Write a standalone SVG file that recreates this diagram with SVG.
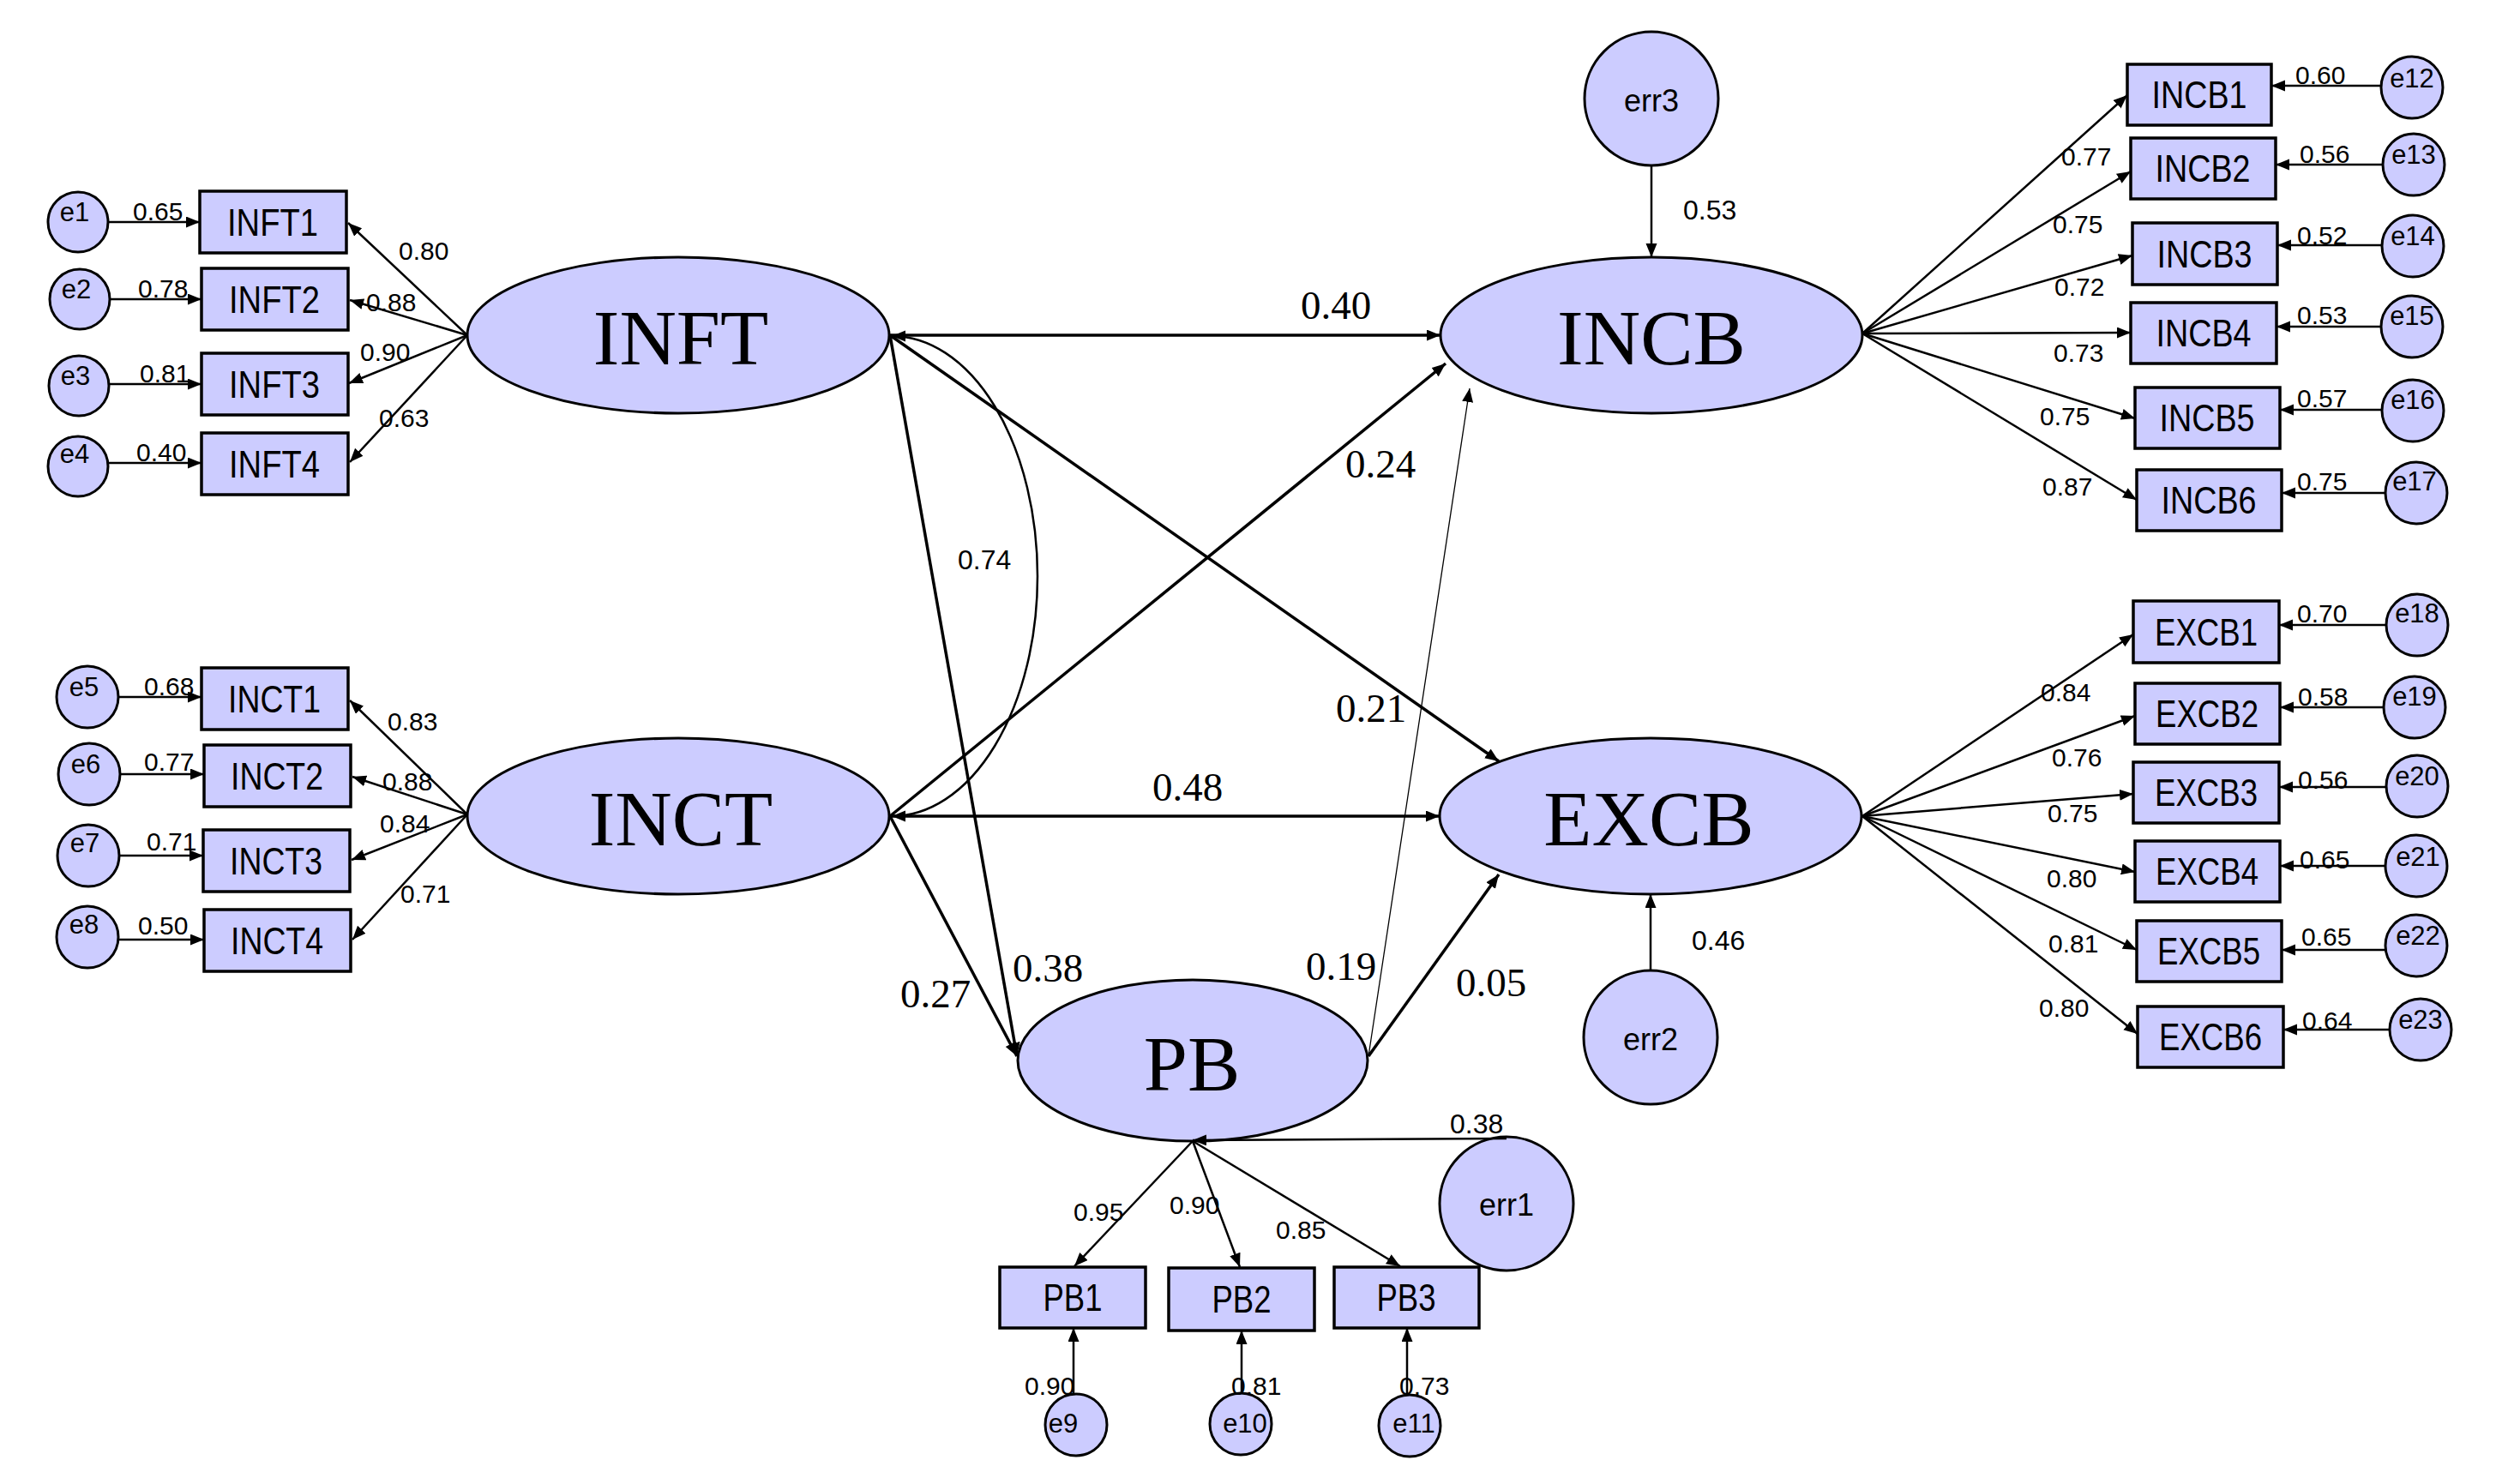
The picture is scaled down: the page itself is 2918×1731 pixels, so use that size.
<svg xmlns="http://www.w3.org/2000/svg" width="2918" height="1731" viewBox="0 0 2918 1731">
<defs>
<marker id="ah" markerUnits="userSpaceOnUse" markerWidth="17" markerHeight="14" refX="16" refY="6.5" orient="auto"><path d="M0,0 L16,6.5 L0,13 z" fill="#000"/></marker>
<marker id="ahs" markerUnits="userSpaceOnUse" markerWidth="17" markerHeight="14" refX="16" refY="6.5" orient="auto-start-reverse"><path d="M0,0 L16,6.5 L0,13 z" fill="#000"/></marker>
</defs>
<style>
.box{fill:#CCCCFF;stroke:#000;stroke-width:3.5}
.lat{fill:#CCCCFF;stroke:#000;stroke-width:3}
.err{fill:#CCCCFF;stroke:#000;stroke-width:3}
.bl{font-family:"Liberation Sans",Arial,sans-serif;font-size:45px;text-anchor:middle;fill:#000}
.ll{font-family:"Liberation Serif","Times New Roman",serif;font-size:92px;text-anchor:middle;fill:#000}
.el{font-family:"Liberation Sans",Arial,sans-serif;font-size:31px;text-anchor:middle;fill:#000}
.erl{font-family:"Liberation Sans",Arial,sans-serif;font-size:36px;text-anchor:middle;fill:#000}
.n{font-family:"Liberation Sans",Arial,sans-serif;font-size:30px;fill:#000}
.n2{font-family:"Liberation Sans",Arial,sans-serif;font-size:32px;fill:#000}
.s{font-family:"Liberation Serif","Times New Roman",serif;font-size:47px;fill:#000}
.ld{stroke:#000;stroke-width:2.5;fill:none;marker-end:url(#ah)}
.st{stroke:#000;stroke-width:3.5;fill:none;marker-end:url(#ah)}
.th{stroke:#000;stroke-width:1.3;fill:none;marker-end:url(#ah)}
.cov{stroke:#000;stroke-width:2.5;fill:none;marker-start:url(#ahs);marker-end:url(#ahs)}
</style>
<rect width="2918" height="1731" fill="#fff"/>

<g id="INFT"><ellipse class="lat" cx="791" cy="391" rx="246" ry="91"/><text class="ll" x="794" y="425">INFT</text></g>
<g id="INCT"><ellipse class="lat" cx="791" cy="952" rx="246" ry="91"/><text class="ll" x="794" y="986">INCT</text></g>
<g id="INCB"><ellipse class="lat" cx="1926" cy="391" rx="246" ry="91"/><text class="ll" x="1926" y="425">INCB</text></g>
<g id="EXCB"><ellipse class="lat" cx="1925" cy="952" rx="246" ry="91"/><text class="ll" x="1923" y="986">EXCB</text></g>
<g id="PB"><ellipse class="lat" cx="1391" cy="1237" rx="204" ry="94"/><text class="ll" x="1390" y="1272">PB</text></g>

<g id="err3"><circle class="err" cx="1926" cy="115" r="78"/><text class="erl" x="1926" y="130">err3</text></g>
<g id="err2"><circle class="err" cx="1925" cy="1210" r="78"/><text class="erl" x="1925" y="1225">err2</text></g>
<g id="err1"><circle class="err" cx="1757" cy="1404" r="78"/><text class="erl" x="1757" y="1418">err1</text></g>

<g id="INFT1"><rect class="box" x="233" y="223" width="171" height="72"/><text class="bl" x="318" y="275" textLength="106" lengthAdjust="spacingAndGlyphs">INFT1</text></g>
<g id="INFT2"><rect class="box" x="235" y="313" width="171" height="72"/><text class="bl" x="320" y="365" textLength="106" lengthAdjust="spacingAndGlyphs">INFT2</text></g>
<g id="INFT3"><rect class="box" x="235" y="412" width="171" height="72"/><text class="bl" x="320" y="464" textLength="106" lengthAdjust="spacingAndGlyphs">INFT3</text></g>
<g id="INFT4"><rect class="box" x="235" y="505" width="171" height="72"/><text class="bl" x="320" y="557" textLength="106" lengthAdjust="spacingAndGlyphs">INFT4</text></g>
<g id="e1"><circle class="err" cx="91" cy="259" r="35"/><text class="el" x="87" y="258">e1</text></g>
<g id="e2"><circle class="err" cx="93" cy="349" r="35"/><text class="el" x="89" y="348">e2</text></g>
<g id="e3"><circle class="err" cx="92" cy="450" r="35"/><text class="el" x="88" y="449">e3</text></g>
<g id="e4"><circle class="err" cx="91" cy="544" r="35"/><text class="el" x="87" y="540">e4</text></g>

<g id="INCT1"><rect class="box" x="235" y="779" width="171" height="72"/><text class="bl" x="320" y="831" textLength="108" lengthAdjust="spacingAndGlyphs">INCT1</text></g>
<g id="INCT2"><rect class="box" x="238" y="869" width="171" height="72"/><text class="bl" x="323" y="921" textLength="108" lengthAdjust="spacingAndGlyphs">INCT2</text></g>
<g id="INCT3"><rect class="box" x="237" y="968" width="171" height="72"/><text class="bl" x="322" y="1020" textLength="108" lengthAdjust="spacingAndGlyphs">INCT3</text></g>
<g id="INCT4"><rect class="box" x="238" y="1061" width="171" height="72"/><text class="bl" x="323" y="1113" textLength="108" lengthAdjust="spacingAndGlyphs">INCT4</text></g>
<g id="e5"><circle class="err" cx="102" cy="813" r="36"/><text class="el" x="98" y="812">e5</text></g>
<g id="e6"><circle class="err" cx="104" cy="903" r="36"/><text class="el" x="100" y="902">e6</text></g>
<g id="e7"><circle class="err" cx="103" cy="998" r="36"/><text class="el" x="99" y="994">e7</text></g>
<g id="e8"><circle class="err" cx="102" cy="1093" r="36"/><text class="el" x="98" y="1089">e8</text></g>

<g id="INCB1"><rect class="box" x="2481" y="75" width="168" height="71"/><text class="bl" x="2565" y="126" textLength="111" lengthAdjust="spacingAndGlyphs">INCB1</text></g>
<g id="INCB2"><rect class="box" x="2485" y="161" width="169" height="71"/><text class="bl" x="2569" y="212" textLength="111" lengthAdjust="spacingAndGlyphs">INCB2</text></g>
<g id="INCB3"><rect class="box" x="2487" y="260" width="169" height="72"/><text class="bl" x="2571" y="312" textLength="111" lengthAdjust="spacingAndGlyphs">INCB3</text></g>
<g id="INCB4"><rect class="box" x="2485" y="353" width="170" height="71"/><text class="bl" x="2570" y="404" textLength="111" lengthAdjust="spacingAndGlyphs">INCB4</text></g>
<g id="INCB5"><rect class="box" x="2490" y="452" width="169" height="71"/><text class="bl" x="2574" y="503" textLength="111" lengthAdjust="spacingAndGlyphs">INCB5</text></g>
<g id="INCB6"><rect class="box" x="2492" y="548" width="169" height="71"/><text class="bl" x="2576" y="599" textLength="111" lengthAdjust="spacingAndGlyphs">INCB6</text></g>
<g id="e12"><circle class="err" cx="2813" cy="102" r="36"/><text class="el" x="2813" y="102">e12</text></g>
<g id="e13"><circle class="err" cx="2815" cy="192" r="36"/><text class="el" x="2815" y="191">e13</text></g>
<g id="e14"><circle class="err" cx="2814" cy="287" r="36"/><text class="el" x="2814" y="286">e14</text></g>
<g id="e15"><circle class="err" cx="2813" cy="381" r="36"/><text class="el" x="2813" y="379">e15</text></g>
<g id="e16"><circle class="err" cx="2814" cy="479" r="36"/><text class="el" x="2814" y="477">e16</text></g>
<g id="e17"><circle class="err" cx="2818" cy="575" r="36"/><text class="el" x="2816" y="572">e17</text></g>

<g id="EXCB1"><rect class="box" x="2488" y="701" width="170" height="72"/><text class="bl" x="2573" y="753" textLength="120" lengthAdjust="spacingAndGlyphs">EXCB1</text></g>
<g id="EXCB2"><rect class="box" x="2490" y="797" width="169" height="71"/><text class="bl" x="2574" y="848" textLength="120" lengthAdjust="spacingAndGlyphs">EXCB2</text></g>
<g id="EXCB3"><rect class="box" x="2488" y="889" width="170" height="71"/><text class="bl" x="2573" y="940" textLength="120" lengthAdjust="spacingAndGlyphs">EXCB3</text></g>
<g id="EXCB4"><rect class="box" x="2490" y="981" width="169" height="71"/><text class="bl" x="2574" y="1032" textLength="120" lengthAdjust="spacingAndGlyphs">EXCB4</text></g>
<g id="EXCB5"><rect class="box" x="2492" y="1074" width="169" height="71"/><text class="bl" x="2576" y="1125" textLength="120" lengthAdjust="spacingAndGlyphs">EXCB5</text></g>
<g id="EXCB6"><rect class="box" x="2493" y="1174" width="170" height="71"/><text class="bl" x="2578" y="1225" textLength="120" lengthAdjust="spacingAndGlyphs">EXCB6</text></g>
<g id="e18"><circle class="err" cx="2819" cy="729" r="36"/><text class="el" x="2819" y="726">e18</text></g>
<g id="e19"><circle class="err" cx="2816" cy="825" r="36"/><text class="el" x="2816" y="823">e19</text></g>
<g id="e20"><circle class="err" cx="2819" cy="917" r="36"/><text class="el" x="2819" y="916">e20</text></g>
<g id="e21"><circle class="err" cx="2818" cy="1010" r="36"/><text class="el" x="2820" y="1010">e21</text></g>
<g id="e22"><circle class="err" cx="2818" cy="1103" r="36"/><text class="el" x="2820" y="1102">e22</text></g>
<g id="e23"><circle class="err" cx="2823" cy="1201" r="36"/><text class="el" x="2823" y="1200">e23</text></g>

<g id="PB1"><rect class="box" x="1166" y="1478" width="170" height="71"/><text class="bl" x="1251" y="1529" textLength="69" lengthAdjust="spacingAndGlyphs">PB1</text></g>
<g id="PB2"><rect class="box" x="1363" y="1479" width="170" height="73"/><text class="bl" x="1448" y="1531" textLength="69" lengthAdjust="spacingAndGlyphs">PB2</text></g>
<g id="PB3"><rect class="box" x="1556" y="1478" width="169" height="71"/><text class="bl" x="1640" y="1529" textLength="69" lengthAdjust="spacingAndGlyphs">PB3</text></g>
<g id="e9"><circle class="err" cx="1255" cy="1662" r="36"/><text class="el" x="1240" y="1671">e9</text></g>
<g id="e10"><circle class="err" cx="1447" cy="1661" r="36"/><text class="el" x="1452" y="1671">e10</text></g>
<g id="e11"><circle class="err" cx="1644" cy="1663" r="36"/><text class="el" x="1649" y="1671">e11</text></g>

<g id="connectors">
<line class="st" x1="1038" y1="391" x2="1680" y2="391"/>
<line class="st" x1="1038" y1="391" x2="1748" y2="888"/>
<line class="st" x1="1038" y1="391" x2="1186" y2="1232"/>
<line class="st" x1="1038" y1="952" x2="1686" y2="424"/>
<line class="st" x1="1038" y1="952" x2="1679" y2="952"/>
<line class="st" x1="1038" y1="952" x2="1186" y2="1232"/>
<line class="th" x1="1596" y1="1232" x2="1714" y2="453"/>
<line class="st" x1="1596" y1="1232" x2="1748" y2="1020"/>
<path class="cov" d="M1040,392 A170,280 0 0 1 1040,952"/>
<line class="ld" x1="1926" y1="193" x2="1926" y2="300"/>
<line class="ld" x1="1925" y1="1132" x2="1925" y2="1043"/>
<line class="ld" x1="1757" y1="1328" x2="1391" y2="1330"/>
<line class="ld" x1="545" y1="391" x2="406" y2="260"/>
<line class="ld" x1="545" y1="391" x2="408" y2="350"/>
<line class="ld" x1="545" y1="391" x2="407" y2="447"/>
<line class="ld" x1="545" y1="391" x2="408" y2="539"/>
<line class="ld" x1="126" y1="259" x2="233" y2="259"/>
<line class="ld" x1="128" y1="349" x2="235" y2="349"/>
<line class="ld" x1="127" y1="448" x2="235" y2="448"/>
<line class="ld" x1="126" y1="540" x2="235" y2="540"/>
<line class="ld" x1="545" y1="950" x2="408" y2="817"/>
<line class="ld" x1="545" y1="950" x2="411" y2="906"/>
<line class="ld" x1="545" y1="950" x2="410" y2="1003"/>
<line class="ld" x1="545" y1="950" x2="411" y2="1096"/>
<line class="ld" x1="138" y1="813" x2="235" y2="813"/>
<line class="ld" x1="140" y1="903" x2="238" y2="903"/>
<line class="ld" x1="139" y1="998" x2="237" y2="998"/>
<line class="ld" x1="138" y1="1096" x2="238" y2="1096"/>
<line class="ld" x1="2172" y1="389" x2="2481" y2="111"/>
<line class="ld" x1="2172" y1="389" x2="2485" y2="200"/>
<line class="ld" x1="2172" y1="389" x2="2487" y2="298"/>
<line class="ld" x1="2172" y1="389" x2="2485" y2="388"/>
<line class="ld" x1="2172" y1="389" x2="2490" y2="488"/>
<line class="ld" x1="2172" y1="389" x2="2492" y2="583"/>
<line class="ld" x1="2777" y1="100" x2="2649" y2="100"/>
<line class="ld" x1="2779" y1="192" x2="2654" y2="192"/>
<line class="ld" x1="2778" y1="286" x2="2656" y2="286"/>
<line class="ld" x1="2777" y1="381" x2="2655" y2="381"/>
<line class="ld" x1="2778" y1="478" x2="2659" y2="478"/>
<line class="ld" x1="2782" y1="575" x2="2661" y2="575"/>
<line class="ld" x1="2172" y1="952" x2="2488" y2="740"/>
<line class="ld" x1="2172" y1="952" x2="2490" y2="835"/>
<line class="ld" x1="2172" y1="952" x2="2488" y2="926"/>
<line class="ld" x1="2172" y1="952" x2="2490" y2="1017"/>
<line class="ld" x1="2172" y1="952" x2="2492" y2="1108"/>
<line class="ld" x1="2172" y1="952" x2="2493" y2="1206"/>
<line class="ld" x1="2783" y1="729" x2="2658" y2="729"/>
<line class="ld" x1="2780" y1="825" x2="2659" y2="825"/>
<line class="ld" x1="2783" y1="918" x2="2658" y2="918"/>
<line class="ld" x1="2782" y1="1010" x2="2659" y2="1010"/>
<line class="ld" x1="2782" y1="1108" x2="2661" y2="1108"/>
<line class="ld" x1="2787" y1="1201" x2="2663" y2="1201"/>
<line class="ld" x1="1391" y1="1331" x2="1253" y2="1477"/>
<line class="ld" x1="1391" y1="1331" x2="1446" y2="1478"/>
<line class="ld" x1="1391" y1="1331" x2="1633" y2="1477"/>
<line class="ld" x1="1252" y1="1626" x2="1252" y2="1549"/>
<line class="ld" x1="1448" y1="1625" x2="1448" y2="1552"/>
<line class="ld" x1="1641" y1="1627" x2="1641" y2="1549"/>

<text class="s" x="1517" y="372">0.40</text>
<text class="s" x="1569" y="557">0.24</text>
<text class="s" x="1558" y="842">0.21</text>
<text class="s" x="1344" y="934">0.48</text>
<text class="s" x="1050" y="1175">0.27</text>
<text class="s" x="1181" y="1145">0.38</text>
<text class="s" x="1523" y="1143">0.19</text>
<text class="s" x="1698" y="1162">0.05</text>
<text class="n2" x="1117" y="664">0.74</text>
<text class="n2" x="1963" y="256">0.53</text>
<text class="n2" x="1973" y="1108">0.46</text>
<text class="n2" x="1691" y="1322">0.38</text>

<text class="n" x="465" y="303">0.80</text>
<text class="n" x="427" y="363">0.88</text>
<text class="n" x="420" y="421">0.90</text>
<text class="n" x="442" y="498">0.63</text>
<text class="n" x="155" y="257">0.65</text>
<text class="n" x="161" y="347">0.78</text>
<text class="n" x="163" y="446">0.81</text>
<text class="n" x="159" y="538">0.40</text>

<text class="n" x="452" y="852">0.83</text>
<text class="n" x="446" y="922">0.88</text>
<text class="n" x="443" y="971">0.84</text>
<text class="n" x="467" y="1053">0.71</text>
<text class="n" x="168" y="811">0.68</text>
<text class="n" x="168" y="899">0.77</text>
<text class="n" x="171" y="992">0.71</text>
<text class="n" x="161" y="1090">0.50</text>

<text class="n" x="2404" y="193">0.77</text>
<text class="n" x="2394" y="272">0.75</text>
<text class="n" x="2396" y="345">0.72</text>
<text class="n" x="2395" y="422">0.73</text>
<text class="n" x="2379" y="496">0.75</text>
<text class="n" x="2382" y="578">0.87</text>
<text class="n" x="2677" y="98">0.60</text>
<text class="n" x="2682" y="190">0.56</text>
<text class="n" x="2679" y="285">0.52</text>
<text class="n" x="2679" y="378">0.53</text>
<text class="n" x="2679" y="475">0.57</text>
<text class="n" x="2679" y="572">0.75</text>

<text class="n" x="2380" y="818">0.84</text>
<text class="n" x="2393" y="894">0.76</text>
<text class="n" x="2388" y="959">0.75</text>
<text class="n" x="2387" y="1035">0.80</text>
<text class="n" x="2389" y="1111">0.81</text>
<text class="n" x="2378" y="1186">0.80</text>
<text class="n" x="2679" y="726">0.70</text>
<text class="n" x="2680" y="823">0.58</text>
<text class="n" x="2680" y="920">0.56</text>
<text class="n" x="2682" y="1013">0.65</text>
<text class="n" x="2684" y="1103">0.65</text>
<text class="n" x="2685" y="1201">0.64</text>

<text class="n" x="1252" y="1424">0.95</text>
<text class="n" x="1364" y="1416">0.90</text>
<text class="n" x="1488" y="1445">0.85</text>
<text class="n" x="1195" y="1627">0.90</text>
<text class="n" x="1436" y="1627">0.81</text>
<text class="n" x="1632" y="1627">0.73</text>
</g>
</svg>
